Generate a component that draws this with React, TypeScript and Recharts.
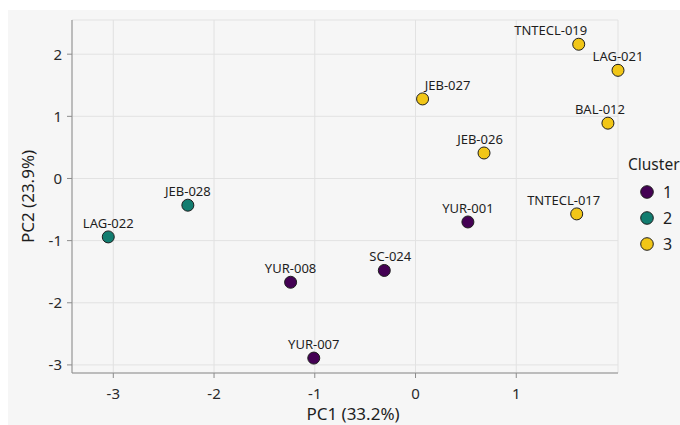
import { ScatterChart, Scatter, XAxis, YAxis, CartesianGrid } from 'recharts';

// PCA scores
const sampleNames = ['TNTECL-019', 'LAG-021', 'JEB-027', 'BAL-012', 'JEB-026', 'YUR-001', 'TNTECL-017', 'SC-024', 'JEB-028', 'LAG-022', 'YUR-008', 'YUR-007'];
const pc1Scores = [1.62, 2.01, 0.07, 1.91, 0.68, 0.52, 1.6, -0.31, -2.26, -3.05, -1.24, -1.01];
const pc2Scores = [2.16, 1.74, 1.28, 0.89, 0.41, -0.7, -0.57, -1.48, -0.43, -0.94, -1.67, -2.89];
const clusterOfSample = ['3', '3', '3', '3', '3', '1', '3', '1', '2', '2', '1', '1'];

const clusterIds = ['1', '2', '3'];
const xTicks = [-3, -2, -1, 0, 1];
const yTicks = [-3, -2, -1, 0, 1, 2];

const clusterColors: Record<string, string> = { '1': '#440154', '2': '#127d70', '3': '#f1c617' };
// small nudges so labels don't collide (like ggrepel did)
const labelNudge: Record<string, number> = { 'TNTECL-019': -28, 'JEB-027': 25, 'BAL-012': -8, 'JEB-026': -4, 'TNTECL-017': -13, 'SC-024': 6 };

const font = '"Noto Sans", "Open Sans", sans-serif';

const points = sampleNames.map((name, i) => ({ name, x: pc1Scores[i], y: pc2Scores[i], cluster: clusterOfSample[i] }));

function SamplePoint(props: any) {
  const { cx, cy, payload, fill } = props;
  if (cx == null || cy == null) return null;
  const dx = labelNudge[payload.name] || 0;
  return (
    <g>
      <circle cx={cx} cy={cy} r={6} fill={fill} stroke="#1e1e1e" strokeWidth={1} />
      <text x={cx + dx} y={cy - 9} textAnchor="middle" fontSize={13} fill="#1e1e1e" fontFamily={font}>
        {payload.name}
      </text>
    </g>
  );
}

export default function App() {
  return (
    <div style={{ position: 'absolute', left: 8, top: 10, width: 672, height: 415, background: '#f6f6f6', overflow: 'hidden', fontFamily: font }}>
      <ScatterChart width={672} height={415} margin={{ top: 10, right: 62, bottom: 2, left: 0 }}>
        <CartesianGrid stroke="#e2e2e2" />
        <XAxis
          type="number"
          dataKey="x"
          domain={[-3.41, 2.01]}
          ticks={xTicks}
          height={50}
          tickSize={5}
          tickMargin={10}
          stroke="#8c8c8c"
          tick={{ fill: '#2a2a2a', fontSize: 15, fontFamily: font }}
          label={{ value: 'PC1 (33.2%)', position: 'insideBottom', offset: 3, dx: 8, fill: '#1e1e1e', fontSize: 17, fontFamily: font }}
        />
        <YAxis
          type="number"
          dataKey="y"
          domain={[-3.13, 2.55]}
          ticks={yTicks}
          width={64}
          tickSize={5}
          tickMargin={5}
          stroke="#8c8c8c"
          tick={{ fill: '#2a2a2a', fontSize: 15, fontFamily: font }}
          label={{ value: 'PC2 (23.9%)', angle: -90, position: 'insideLeft', offset: 20, fill: '#1e1e1e', fontSize: 17, fontFamily: font, style: { textAnchor: 'middle' } }}
        />
        {clusterIds.map(c => (
          <Scatter
            key={c}
            name={c}
            data={points.filter(p => p.cluster === c)}
            fill={clusterColors[c]}
            shape={(p: any) => <SamplePoint {...p} />}
            isAnimationActive={false}
          />
        ))}
      </ScatterChart>

      <div style={{ position: 'absolute', left: 620, top: 144, color: '#1e1e1e' }}>
        <div style={{ fontSize: 15.5, lineHeight: '20px', whiteSpace: 'nowrap' }}>Cluster</div>
        <div style={{ marginTop: 5 }}>
          {clusterIds.map(c => (
            <div key={c} style={{ display: 'flex', alignItems: 'center', height: 26 }}>
              <svg width={14} height={14} style={{ marginLeft: 12, marginRight: 9 }}>
                <circle cx={7} cy={7} r={6.3} fill={clusterColors[c]} stroke="#1e1e1e" strokeWidth={1} />
              </svg>
              <span style={{ fontSize: 16 }}>{c}</span>
            </div>
          ))}
        </div>
      </div>
    </div>
  );
}
